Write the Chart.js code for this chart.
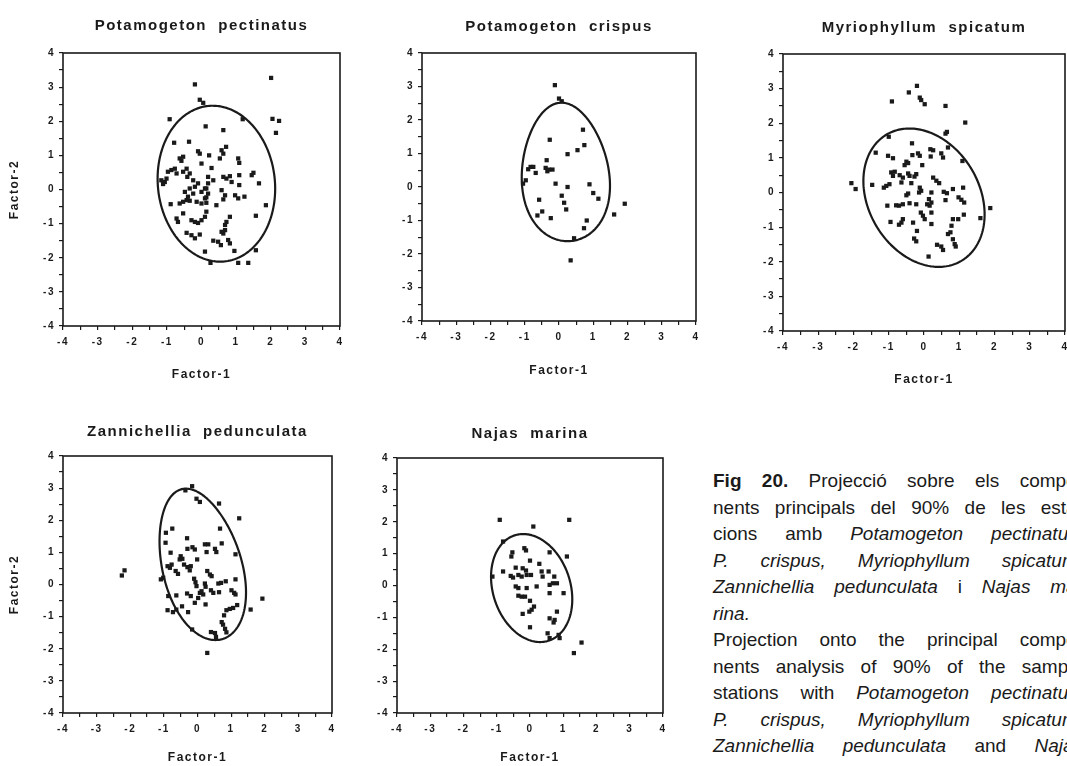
<!DOCTYPE html>
<html><head><meta charset="utf-8">
<script src="https://cdn.jsdelivr.net/npm/chart.js"></script>
<style>
html,body{margin:0;padding:0;background:#fff;width:1067px;height:766px;overflow:hidden;position:relative;}
.panel{position:absolute;}
#caption{position:absolute;left:713px;top:468px;width:370px;font-family:"Liberation Sans",Arial,sans-serif;font-size:19px;line-height:26.5px;color:#1a1a1a;}
#caption div{text-align:justify;text-align-last:justify;height:26.5px;}
#caption div.last{text-align-last:left;}
</style></head><body>
<div id="caption">
<div><b>Fig 20.</b> Projecció sobre els compo-</div>
<div>nents principals del 90% de les esta-</div>
<div>cions amb <i>Potamogeton pectinatus,</i></div>
<div><i>P. crispus, Myriophyllum spicatum,</i></div>
<div><i>Zannichellia pedunculata</i> i <i>Najas ma-</i></div>
<div class="last"><i>rina.</i></div>
<div>Projection onto the principal compo-</div>
<div>nents analysis of 90% of the sample</div>
<div>stations with <i>Potamogeton pectinatus,</i></div>
<div><i>P. crispus, Myriophyllum spicatum,</i></div>
<div><i>Zannichellia pedunculata</i> and <i>Najas</i></div>
<div class="last"><i>marina.</i></div>
</div>
<script>
// ---------- DATA ----------
const panelTitles = ["Potamogeton  pectinatus", "Potamogeton  crispus", "Myriophyllum  spicatum", "Zannichellia  pedunculata", "Najas  marina"];
const xAxisTitle = "Factor-1";
const yAxisTitle = "Factor-2";
const axisMin = -4, axisMax = 4;

const pectinatusX = [2.01,-0.19,-0.05,0.05,-0.92,1.19,2.05,2.24,2.15,0.12,0.63,-0.79,-0.36,-0.10,-0.05,0.22,0.53,0.63,0.71,0.58,1.06,1.09,-0.63,-0.53,-0.58,0.00,0.29,-0.97,-0.87,-0.77,-0.72,-0.53,-0.43,-0.34,-0.41,-1.16,-1.06,-1.11,-1.01,-0.24,-0.10,-0.19,0.19,0.34,0.19,0.14,0.63,0.72,0.82,0.87,1.09,1.09,1.45,1.50,1.66,-0.48,-0.34,-0.24,-0.39,0.00,0.10,0.19,0.14,0.58,0.68,0.63,0.97,1.06,1.24,-0.89,-0.63,-0.53,-0.43,-0.34,-0.14,0.00,0.14,0.10,0.43,1.86,-0.53,-0.72,-0.68,-0.29,-0.19,-0.10,0.00,0.10,0.14,0.82,0.72,0.68,1.57,0.68,0.63,0.58,-0.43,-0.29,-0.19,-0.05,0.34,0.48,0.56,0.77,0.82,0.10,0.95,1.57,0.26,1.06,1.35];
const pectinatusY = [3.27,3.08,2.63,2.54,2.06,2.06,2.07,2.01,1.66,1.85,1.74,1.37,1.40,1.12,1.05,1.00,0.91,1.05,1.25,1.15,0.91,0.78,0.91,0.96,0.84,0.76,0.63,0.52,0.57,0.61,0.47,0.52,0.61,0.47,0.37,0.27,0.22,0.16,0.32,0.27,0.18,0.08,0.37,0.27,0.18,0.03,0.37,0.32,0.39,0.22,0.42,0.13,0.42,0.49,0.18,-0.07,0.03,-0.12,-0.21,-0.07,0.03,-0.12,-0.23,-0.02,-0.17,-0.29,-0.17,-0.26,-0.21,-0.43,-0.41,-0.36,-0.31,-0.33,-0.36,-0.41,-0.39,-0.26,-0.46,-0.46,-0.70,-0.85,-0.95,-0.90,-0.95,-0.98,-0.90,-0.80,-0.65,-0.80,-0.95,-1.04,-0.77,-1.19,-1.29,-1.24,-1.27,-1.34,-1.43,-1.32,-1.50,-1.53,-1.63,-1.48,-1.58,-1.82,-1.80,-1.78,-2.15,-2.15,-2.15];

const crispusX = [-0.12,0.00,0.08,-0.27,0.70,0.74,0.54,0.25,-0.36,-0.90,-0.83,-0.75,-0.68,-0.39,-0.34,-0.29,-0.19,-0.97,-1.05,-0.10,0.25,0.89,1.00,1.15,0.08,0.15,0.21,-0.58,1.92,-0.49,-0.63,-0.24,1.61,0.81,0.73,0.44,0.34];
const crispusY = [3.04,2.64,2.56,1.41,1.71,1.25,1.10,0.98,0.80,0.53,0.60,0.60,0.42,0.57,0.47,0.52,0.52,0.20,0.10,0.10,0.00,0.08,-0.18,-0.35,-0.26,-0.47,-0.67,-0.38,-0.50,-0.73,-0.85,-0.93,-0.82,-1.00,-1.23,-1.53,-2.19];

const spicatumX = [-0.20,-0.43,-0.12,-0.08,0.02,-0.91,0.61,1.17,0.65,0.61,-1.00,-0.34,-1.37,-0.33,-0.17,-0.12,0.18,0.26,0.19,0.49,0.54,0.68,1.09,-1.02,-0.88,-0.50,-0.55,-0.45,-0.05,-0.93,-0.83,-0.88,-0.69,-0.60,-0.45,-0.41,-0.22,-0.27,0.26,0.35,0.43,-1.14,-1.07,-0.98,-1.47,-2.06,-1.94,-0.64,-0.36,-0.12,-0.08,-0.14,0.21,0.56,0.65,0.82,1.11,0.98,1.06,1.14,0.61,-0.50,-0.45,0.14,0.21,0.09,0.16,-1.04,-0.79,-0.71,-0.60,-0.41,-0.22,-0.09,-0.03,0.02,0.21,1.88,1.13,0.97,0.82,1.60,-0.95,-0.60,-0.64,-0.71,-0.31,0.21,0.78,0.75,0.68,-0.20,-0.28,-0.22,0.82,0.87,0.90,0.37,0.49,0.54,0.13];
const spicatumY = [3.08,2.89,2.74,2.67,2.55,2.63,2.50,2.02,1.75,1.70,1.61,1.42,1.15,1.08,1.13,1.06,1.25,1.22,1.04,1.13,1.01,1.30,0.91,1.06,0.99,0.89,0.79,0.85,0.79,0.58,0.60,0.48,0.50,0.43,0.55,0.48,0.53,0.46,0.43,0.34,0.27,0.14,0.19,0.24,0.22,0.27,0.10,0.29,0.27,0.14,0.05,0.00,0.00,0.02,-0.02,0.10,0.14,-0.14,-0.21,-0.29,-0.22,-0.08,-0.03,-0.19,-0.29,-0.34,-0.38,-0.38,-0.37,-0.38,-0.34,-0.31,-0.34,-0.58,-0.67,-0.77,-0.58,-0.45,-0.64,-0.77,-0.77,-0.74,-0.85,-0.77,-0.87,-0.93,-0.87,-0.91,-0.96,-1.15,-1.20,-1.11,-1.33,-1.41,-1.35,-1.49,-1.56,-1.51,-1.56,-1.66,-1.85];

const zannichelliaX = [-0.16,-0.36,-0.03,0.07,0.64,1.24,0.67,-0.94,-0.75,-0.95,-0.31,-0.80,-0.30,-0.15,-0.08,0.22,0.32,0.27,0.52,0.56,0.72,1.13,-0.50,-0.45,-0.53,-0.01,-0.89,-0.77,-0.82,-0.40,-0.30,-0.20,-0.23,-0.65,-0.58,-2.17,-2.25,0.29,0.37,0.42,-1.02,-1.09,-0.10,-0.06,-0.03,0.22,0.24,0.62,0.70,0.84,1.13,0.40,0.47,0.64,1.01,1.09,1.13,-0.87,-0.63,-0.31,-0.20,0.07,0.12,0.17,0.02,-0.08,0.24,1.93,-0.46,-0.89,-0.73,-0.63,-0.28,0.86,0.96,1.06,1.18,1.58,0.79,0.72,0.76,0.82,0.86,-0.16,0.40,0.52,0.55,0.29];
const zannichelliaY = [3.06,2.93,2.67,2.57,2.52,2.06,1.74,1.61,1.74,1.30,1.44,0.99,1.11,1.16,1.09,1.25,1.25,1.01,1.11,1.01,1.28,0.94,0.88,0.80,0.78,0.78,0.57,0.62,0.52,0.62,0.54,0.57,0.44,0.42,0.33,0.44,0.28,0.42,0.31,0.26,0.21,0.16,0.18,0.07,-0.05,0.03,-0.07,0.03,0.05,0.10,0.16,-0.18,-0.26,-0.24,-0.18,-0.26,-0.31,-0.36,-0.34,-0.28,-0.36,-0.26,-0.21,-0.31,-0.42,-0.57,-0.62,-0.44,-0.68,-0.80,-0.86,-0.78,-0.86,-0.80,-0.76,-0.73,-0.64,-0.78,-0.96,-1.17,-1.25,-1.38,-1.49,-1.40,-1.48,-1.51,-1.63,-2.13];

const najasX = [-0.91,1.18,0.10,-0.81,-0.17,-0.12,-0.53,-0.56,0.00,0.59,1.11,0.28,-0.43,-0.22,-0.12,-0.81,0.35,0.56,-0.58,-0.51,-0.35,-0.25,-0.10,0.03,0.38,0.73,-1.13,-0.43,-0.35,-0.10,0.20,0.59,0.69,0.81,0.59,1.01,-0.35,-0.25,-0.15,0.00,0.12,0.05,-0.02,-0.22,0.59,0.74,0.81,0.71,0.00,0.53,0.59,0.86,0.89,1.55,1.32];
const najasY = [2.06,2.06,1.85,1.38,1.17,1.10,1.04,0.91,0.78,1.04,0.91,0.68,0.56,0.54,0.47,0.44,0.44,0.44,0.30,0.25,0.33,0.28,0.33,0.33,0.28,0.28,0.28,-0.03,-0.08,-0.08,-0.03,0.02,0.07,0.07,-0.24,-0.24,-0.32,-0.35,-0.35,-0.48,-0.66,-0.76,-0.82,-0.89,-1.03,-1.08,-0.82,-1.16,-1.31,-1.50,-1.65,-1.55,-1.65,-1.79,-2.12];

// 90% ellipses (centre, semi-axes, rotation in degrees, egg-shape factor)
const ellipseCenterX = [0.43, 0.18, 0.00, 0.12, 0.05];
const ellipseCenterY = [0.17, 0.45, -0.15, 0.63, -0.08];
const ellipseRadiusX = [1.69, 1.27, 1.58, 1.18, 1.17];
const ellipseRadiusY = [2.29, 2.07, 2.11, 2.41, 1.73];
const ellipseAngle   = [6, 4, 29, 14, 16];
const ellipseEgg     = [0, 0.15, 0, 0.08, 0];

const seriesX = [pectinatusX, crispusX, spicatumX, zannichelliaX, najasX];
const seriesY = [pectinatusY, crispusY, spicatumY, zannichelliaY, najasY];

// ---------- LAYOUT (plot-area rectangles in page pixels) ----------
const layout = [
  {L:63,  T:53,  R:340,  B:326, titleGap:27, factorGap:49, yTitle:true},
  {L:422, T:53,  R:696,  B:321, titleGap:26, factorGap:50, yTitle:false},
  {L:783, T:54,  R:1065, B:331, titleGap:26, factorGap:49, yTitle:false},
  {L:63,  T:456, R:332,  B:713, titleGap:24, factorGap:45, yTitle:true},
  {L:397, T:458, R:663,  B:713, titleGap:24, factorGap:45, yTitle:false}
];

const INK = '#1a1a1a';
Chart.defaults.font.family = '"Liberation Sans", Arial, sans-serif';
Chart.defaults.color = INK;

const spacingPlugin = {
  id: 'spacing',
  beforeDraw(chart) { if ('letterSpacing' in chart.ctx) chart.ctx.letterSpacing = '1.5px'; },
  afterDraw(chart) { if ('letterSpacing' in chart.ctx) chart.ctx.letterSpacing = '0px'; }
};

const framePlugin = {
  id: 'frame',
  afterDatasetsDraw(chart) {
    const {ctx, chartArea: a} = chart;
    ctx.save();
    ctx.strokeStyle = INK; ctx.lineWidth = 1.6;
    ctx.strokeRect(a.left, a.top, a.right - a.left, a.bottom - a.top);
    ctx.restore();
  }
};

const ellipsePlugin = {
  id: 'ellipse',
  afterDatasetsDraw(chart, args, opts) {
    const i = opts.index;
    const xs = chart.scales.x, ys = chart.scales.y, ctx = chart.ctx;
    const a = ellipseAngle[i] * Math.PI / 180;
    ctx.save();
    ctx.beginPath();
    const N = 240;
    for (let k = 0; k <= N; k++) {
      const t = k / N * 2 * Math.PI;
      const v = Math.sin(t);
      const u = ellipseRadiusX[i] * Math.cos(t) * (1 - ellipseEgg[i] * v);
      const w = ellipseRadiusY[i] * v;
      const dx = u * Math.cos(a) - w * Math.sin(a);
      const dy = u * Math.sin(a) + w * Math.cos(a);
      const px = xs.getPixelForValue(ellipseCenterX[i] + dx);
      const py = ys.getPixelForValue(ellipseCenterY[i] + dy);
      if (k === 0) ctx.moveTo(px, py); else ctx.lineTo(px, py);
    }
    ctx.closePath();
    ctx.lineWidth = 2.2;
    ctx.strokeStyle = INK;
    ctx.stroke();
    ctx.restore();
  }
};

const tickLabel = v => (Math.abs(v - Math.round(v)) < 1e-6 ? String(Math.round(v)) : '');

layout.forEach((p, i) => {
  const ML = 62, MR = 10, MT = 42, MB = 62;
  const div = document.createElement('div');
  div.className = 'panel';
  div.style.left = (p.L - ML) + 'px';
  div.style.top = (p.T - MT) + 'px';
  div.style.width = (p.R - p.L + ML + MR) + 'px';
  div.style.height = (p.B - p.T + MT + MB) + 'px';
  const cv = document.createElement('canvas');
  div.appendChild(cv);
  document.body.appendChild(div);

  const pts = seriesX[i].map((x, k) => ({x: x, y: seriesY[i][k]}));
  const titleSize = 15, titleLH = titleSize * 1.2;
  const tpTop = MT - p.titleGap - titleLH / 2;
  const tpBottom = MT - titleLH - tpTop;
  const axisTitleSize = 12, axisTitleLH = axisTitleSize * 1.2;

  new Chart(cv, {
    type: 'scatter',
    data: {datasets: [{
      data: pts,
      pointStyle: 'rect',
      pointRadius: 3,
      pointHoverRadius: 3,
      backgroundColor: INK,
      borderWidth: 0
    }]},
    options: {
      responsive: true,
      maintainAspectRatio: false,
      animation: false,
      events: [],
      layout: {padding: {left: 0, right: MR, top: 0, bottom: 0}},
      plugins: {
        legend: {display: false},
        tooltip: {enabled: false},
        title: {
          display: true,
          text: panelTitles[i],
          fullSize: false,
          color: INK,
          font: {size: titleSize, weight: 'bold'},
          padding: {top: tpTop, bottom: tpBottom}
        },
        ellipse: {index: i}
      },
      scales: {
        x: {
          type: 'linear', min: axisMin, max: axisMax,
          afterFit: s => { s.height = MB; },
          border: {display: false},
          grid: {display: true, drawOnChartArea: false, drawTicks: true, tickLength: 4, color: INK, lineWidth: 1.2},
          ticks: {stepSize: 0.5, autoSkip: false, maxRotation: 0, padding: 6, color: INK,
                  font: {size: 10, weight: 'bold'}, callback: tickLabel},
          title: {display: true, text: xAxisTitle, color: INK,
                  font: {size: axisTitleSize, weight: 'bold'},
                  padding: {top: 0, bottom: MB - p.factorGap - axisTitleLH / 2}}
        },
        y: {
          type: 'linear', min: axisMin, max: axisMax,
          afterFit: s => { s.width = ML; },
          border: {display: false},
          grid: {display: true, drawOnChartArea: false, drawTicks: true, tickLength: 4, color: INK, lineWidth: 1.2},
          ticks: {stepSize: 0.5, autoSkip: false, padding: 4, color: INK,
                  font: {size: 10, weight: 'bold'}, callback: tickLabel},
          title: {display: p.yTitle, text: yAxisTitle, color: INK,
                  font: {size: axisTitleSize, weight: 'bold'},
                  padding: {top: 15 - (p.L - ML) - axisTitleLH / 2, bottom: 0}}
        }
      }
    },
    plugins: [spacingPlugin, framePlugin, ellipsePlugin]
  });
});
</script>
</body></html>
